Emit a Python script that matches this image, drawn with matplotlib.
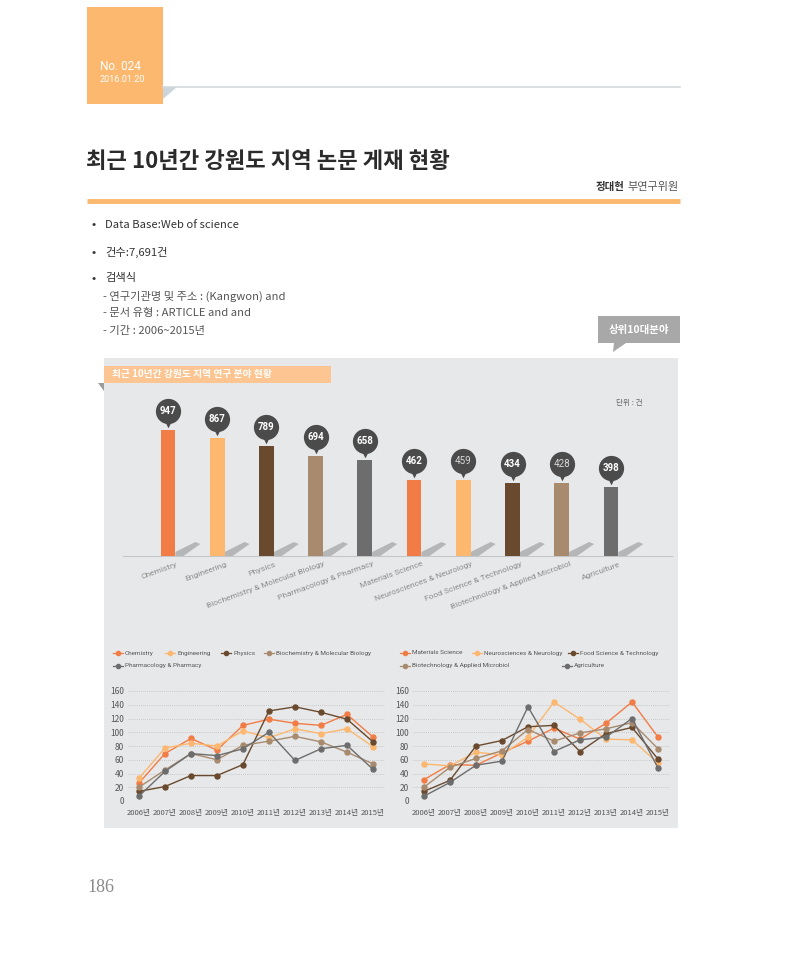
import numpy as np
import matplotlib
matplotlib.use("Agg")
import matplotlib.pyplot as plt
from matplotlib.patches import Rectangle, Polygon
from matplotlib.lines import Line2D
from matplotlib.transforms import offset_copy

plt.rcParams['font.family'] = ['Noto Sans CJK KR', 'DejaVu Sans']

W, H = 800, 957

# ---- data ----
fields = ['Chemistry', 'Engineering', 'Physics', 'Biochemistry & Molecular Biology',
          'Pharmacology & Pharmacy', 'Materials Science', 'Neurosciences & Neurology',
          'Food Science & Technology', 'Biotechnology & Applied Microbiol', 'Agriculture']
totals = [947, 867, 789, 694, 658, 462, 459, 434, 428, 398]

years = ['2006년', '2007년', '2008년', '2009년', '2010년',
         '2011년', '2012년', '2013년', '2014년', '2015년']

chemistry = [26, 69, 91, 74, 110, 119, 113, 110, 126, 93]
engineering = [33, 77, 84, 80, 102, 92, 105, 98, 105, 79]
physics = [14, 21, 37, 37, 53, 131, 137, 129, 119, 86]
biochem = [20, 45, 69, 60, 81, 87, 94, 86, 71, 54]
pharma = [7, 43, 69, 66, 76, 100, 59, 76, 81, 46]

materials = [31, 53, 52, 70, 87, 106, 90, 113, 144, 93]
neuro = [54, 51, 71, 67, 93, 144, 119, 90, 89, 55]
food = [14, 30, 80, 88, 108, 110, 72, 98, 107, 61]
biotech = [20, 49, 62, 73, 104, 87, 99, 105, 114, 76]
agri = [7, 27, 52, 58, 137, 72, 89, 93, 120, 48]

palette = ['#F27C45', '#FDB76F', '#6A4A2E', '#A88B6F', '#6D6D6D']
bar_colors = palette * 2
latin = ['Roboto', 'DejaVu Sans']


def px_rect(x0, y0, x1, y1):
    return [x0 / W, 1 - y1 / H, (x1 - x0) / W, (y1 - y0) / H]


fig = plt.figure(figsize=(W / 100, H / 100), dpi=100)
fig.patch.set_facecolor('white')

# page overlay in pixel coordinates
pg = fig.add_axes([0, 0, 1, 1], zorder=0)
pg.set_xlim(0, W)
pg.set_ylim(H, 0)
pg.axis('off')

# header box
pg.add_patch(Rectangle((87, 7), 76, 97, fc='#FDB870', ec='none'))
pg.add_patch(Polygon([(163, 87), (177, 87), (163, 99)], fc='#CCD5DB', ec='none'))
pg.plot([163, 680], [87, 87], color='#D3D9DD', lw=1.2)
pg.text(100, 66, 'No. 024', color='white', fontsize=8.5, va='center', family=latin)
pg.text(100, 80, '2016.01.20', color='white', fontsize=6.5, va='center', family=latin)

# title
pg.text(86, 161, '최근 10년간 강원도 지역 논문 게재 현황', fontsize=16, color='#2b2b2b',
        va='center', weight='bold')
pg.text(679, 187, '부연구위원', fontsize=8, color='#555555', ha='right', va='center')
pg.text(625, 187, '정대현', fontsize=7.5, color='#333333', ha='right', va='center', weight='bold')
pg.plot([87, 680], [201, 201], color='#FBB870', lw=3.5, solid_capstyle='butt')

# bullets
bullets = [(225, 'Data Base:Web of science'), (252, '건수:7,691건'), (278, '검색식')]
for yy, txt in bullets:
    pg.text(91, yy, '•', fontsize=9, color='#333333', va='center')
    pg.text(105, yy, txt, fontsize=8.1, color='#333333', va='center')
subs = [(296, '- 연구기관명 및 주소 : (Kangwon) and'), (313, '- 문서 유형 : ARTICLE and and'),
        (331, '- 기간 : 2006~2015년')]
for yy, txt in subs:
    pg.text(103, yy, txt, fontsize=8.1, color='#555555', va='center')

# callout
pg.add_patch(Rectangle((598, 316), 82, 27, fc='#A8A8A8', ec='none'))
pg.add_patch(Polygon([(614, 343), (626, 343), (613, 352)], fc='#A8A8A8', ec='none'))
pg.text(639, 329.5, '상위10대분야', fontsize=7.5, color='white', ha='center', va='center', weight='bold')

# grey panel
pg.add_patch(Rectangle((104, 358), 574, 470, fc='#E7E8E9', ec='none'))
pg.add_patch(Rectangle((104, 366), 227, 17, fc='#FCC591', ec='none'))
pg.add_patch(Polygon([(98, 383), (104, 383), (104, 391)], fc='#9C9C9C', ec='none'))
pg.text(112, 374.5, '최근 10년간 강원도 지역 연구 분야 현황', fontsize=7, color='white',
        va='center', weight='bold')
pg.text(616, 403, '단위 : 건', fontsize=5.5, color='#666666', va='center')

# page number
pg.text(87, 887, '186', fontsize=13, color='#8a8a8a', va='center', family=['Liberation Serif'])

# ---- bar chart ----
ax = fig.add_axes(px_rect(123, 395, 672, 556), zorder=1)
ax.set_facecolor('none')
base = -276
x = np.arange(len(totals))
ax.bar(x, np.array(totals) - base, bottom=base, width=0.3, color=bar_colors, zorder=3)
ax.set_xlim(-0.914, 10.24)
ax.set_ylim(base, 1287)
for s in ['top', 'right', 'left']:
    ax.spines[s].set_visible(False)
ax.spines['bottom'].set_color('#C6C6C6')
ax.set_yticks([])
ax.set_xticks(x)
ax.set_xticklabels([])
ax.tick_params(length=0)

# shadows at bar feet
ux = 10.0 / 443 * 0.9
uy = (1287 - base) / 161.0
for i in x:
    xr = i + 0.15
    ax.add_patch(Polygon([(xr, base), (xr, base + 4 * uy), (xr + 20 * ux, base + 14 * uy),
                          (xr + 25 * ux, base + 12 * uy), (xr + 8 * ux, base)],
                         fc='#7a7a7a', ec='none', alpha=0.45, zorder=2))

# bubbles
tr_c = offset_copy(ax.transData, fig=fig, x=0, y=19, units='dots')
tr_p = offset_copy(ax.transData, fig=fig, x=0, y=6, units='dots')
ax.scatter(x, totals, s=330, marker='o', color='#4B4B4B', transform=tr_c, zorder=4, lw=0)
ax.scatter(x, totals, s=30, marker='v', color='#4B4B4B', transform=tr_p, zorder=4, lw=0)
for i, v in enumerate(totals):
    light = v in (459, 428)
    ax.text(i, v, str(v), transform=tr_c, ha='center', va='center', fontsize=7,
            color='#D8D8D8' if light else 'white', weight='normal' if light else 'bold',
            zorder=5, family=latin)

# category labels
for i, name in enumerate(fields):
    ax.annotate(name, xy=(i, base), xytext=(8, -5), textcoords='offset pixels',
                rotation=20, rotation_mode='anchor', ha='right', va='top',
                fontsize=6, color='#8C8C8C', family=latin)


# ---- line charts ----
def line_panel(rect, series, names, legend_pos):
    lx = fig.add_axes(px_rect(*rect), zorder=1)
    lx.set_facecolor('none')
    xi = np.arange(len(years))
    for vals, col in zip(series, palette):
        lx.plot(xi, vals, color=col, lw=1.0, marker='o', ms=3.6, mec=col, mfc=col)
    lx.set_xlim(-0.42, 9.46)
    lx.set_ylim(0, 160)
    lx.set_yticks(range(0, 161, 20))
    lx.set_xticks(xi)
    lx.set_xticklabels(years)
    lx.grid(axis='y', color='#BDBDBD', ls=(0, (1, 1.5)), lw=0.6)
    for s in lx.spines.values():
        s.set_visible(False)
    lx.tick_params(length=0, labelsize=6, colors='#555555', pad=3)
    lx.tick_params(axis='x', pad=6, labelsize=5.5)
    for (mx, my), name, col in zip(legend_pos, names, palette):
        pg.add_line(Line2D([mx - 5, mx + 5], [my, my], color=col, lw=0.9))
        pg.plot(mx, my, marker='o', ms=3, color=col)
        pg.text(mx + 7, my, name, fontsize=4.6, color='#555555', va='center', family=latin)
    return lx


line_panel((128, 691, 385, 801), [chemistry, engineering, physics, biochem, pharma],
           fields[:5], [(118, 653), (170, 653), (226, 653), (269, 653), (118, 666)])
line_panel((413, 691, 670, 801), [materials, neuro, food, biotech, agri],
           fields[5:], [(405, 653), (477, 653), (573, 653), (405, 666), (567, 666)])

fig.savefig('out.png', dpi=100)
